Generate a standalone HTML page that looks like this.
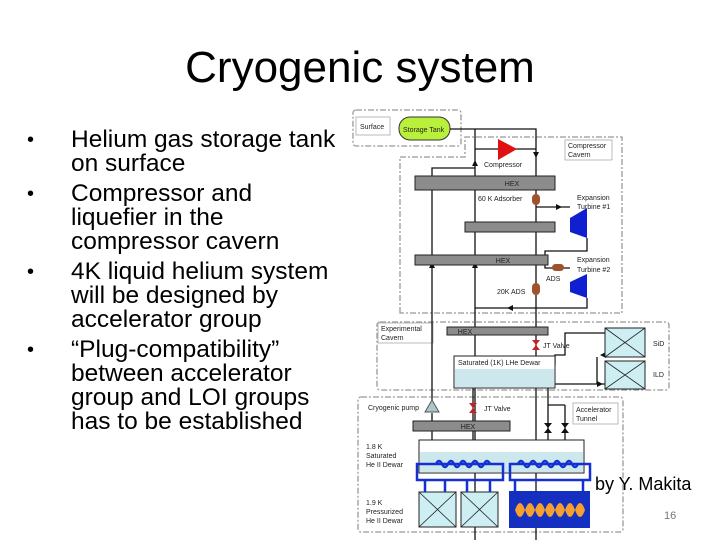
<!DOCTYPE html>
<html><head><style>
body{margin:0;width:720px;height:540px;background:#fff;overflow:hidden;font-family:"Liberation Sans",sans-serif;position:relative}
h1{position:absolute;top:43px;left:0;width:720px;text-align:center;margin:0;font-weight:normal;font-size:44px;line-height:50px}
ul{position:absolute;left:27px;top:128px;margin:0;padding:0;list-style:none;font-size:24.5px;line-height:24px}
li{position:relative;padding-left:44px;margin-bottom:6px}
li:before{content:"•";position:absolute;left:0;font-size:20px}
</style></head><body>
<h1>Cryogenic system</h1>
<ul>
<li>Helium gas storage tank<br>on surface</li>
<li>Compressor and<br>liquefier in the<br>compressor cavern</li>
<li>4K liquid helium system<br>will be designed by<br>accelerator group</li>
<li>“Plug-compatibility”<br>between accelerator<br>group and LOI groups<br>has to be established</li>
</ul>
<svg width="720" height="540" style="position:absolute;left:0;top:0" font-family="Liberation Sans, sans-serif">
<g fill="none" stroke="#999" stroke-width="1.3" stroke-dasharray="6,2,2,2">
<rect x="353" y="110" width="108" height="36" rx="3"/>
<path d="M400,313 V157 H465 V137 H622 V313 Z"/>
<rect x="377" y="322" width="292" height="68" rx="3"/>
<rect x="358" y="397" width="265" height="135" rx="3"/>
</g>
<g fill="#fff" stroke="#aaa" stroke-width="0.8">
<rect x="356" y="117" width="34" height="18"/>
<rect x="565" y="140" width="47" height="20"/>
<rect x="573" y="403" width="45" height="21"/>
<rect x="378" y="323" width="55" height="20"/>
</g>
<rect x="399" y="117" width="51" height="23" rx="11" fill="#b8f03c" stroke="#333"/>
<g stroke="#111" stroke-width="1.3" fill="none">
<path d="M450,129 H536 V540"/>
<path d="M475,129 V540"/>
<path d="M475,149 H536"/>
<path d="M475,168 H432 V400"/>
<path d="M536,207 H570"/>
<path d="M587,238 V251 H545 V268 H570"/>
<path d="M587,298 V308 H475"/>
<path d="M555,365 V355 H565 V333 H605"/>
<path d="M555,384 H605"/>
<path d="M597,357 V384"/>
<path d="M548,388 V445 H503 V464"/>
<path d="M565,405 V460 H512"/>
<path d="M548,405 H565"/>
<path d="M432,413 V440"/>
<path d="M473,388 V440"/>
</g>
<g fill="#111">
<path d="M472,166 l3,-6 3,6z M533,152 l3,6 3,-6z M556,204 l6,3 -6,3z M513,305 l-6,3 6,3z M472,268 l3,-6 3,6z M429,268 l3,-6 3,6z M614,330 l-6,3 6,3z M606,352 l-6,3 6,3z M597,381 l6,3 -6,3z"/>
</g>
<g fill="#8c8c8c" stroke="#222">
<rect x="415" y="176" width="140" height="14"/>
<rect x="465" y="222" width="90" height="10"/>
<rect x="415" y="255" width="133" height="10"/>
<rect x="447" y="327" width="101" height="8"/>
<rect x="413" y="421" width="97" height="10"/>
</g>
<path d="M498,139 L517,149 L498,160 Z" fill="#e01010"/>
<g fill="#a0522d"><rect x="532" y="194" width="8" height="11" rx="4"/><rect x="552" y="264" width="12" height="7" rx="3.5"/><rect x="532" y="283" width="8" height="12" rx="4"/></g>
<g fill="#1020d0"><path d="M570,218 L587,208 V238 L570,232Z"/><path d="M570,282 L587,274 V298 L570,292Z"/></g>
<g fill="#c82020"><path d="M532,340 h8 l-8,10 h8z"/><path d="M469,403 h8 l-8,10 h8z"/></g>
<g fill="#111"><path d="M544,423 h8 l-8,10 h8z"/><path d="M561,423 h8 l-8,10 h8z"/></g>
<path d="M425,412 l7,-12 7,12z" fill="#a8c8cc" stroke="#555"/>
<rect x="454" y="356" width="101" height="32" fill="#fff" stroke="#222"/>
<rect x="455" y="369" width="99" height="18" fill="#cce8ec"/>
<g fill="#cdeef2" stroke="#222">
<rect x="605" y="328" width="40" height="29"/><rect x="605" y="361" width="40" height="28"/>
<rect x="419" y="492" width="37" height="35"/><rect x="461" y="492" width="37" height="35"/>
</g>
<g stroke="#222" stroke-width="0.8">
<path d="M605,328 L645,357 M645,328 L605,357 M605,361 L645,389 M645,361 L605,389 M419,492 L456,527 M456,492 L419,527 M461,492 L498,527 M498,492 L461,527"/>
</g>
<rect x="419" y="440" width="165" height="33" fill="#fff" stroke="#222"/>
<rect x="420" y="452" width="163" height="20" fill="#cce8ec"/>
<g fill="none" stroke="#1530d0" stroke-width="2.5">
<rect x="417" y="464" width="86" height="16"/><rect x="510" y="464" width="80" height="16"/>
<path d="M425,492 V480 M445,492 V480 M467,492 V480 M490,492 V480 M515,492 V480 M583,492 V480"/>
<path d="M436,464 q3,-6 6,0 t6,0 t6,0 t6,0 t6,0 t6,0 t6,0 t6,0 t6,0 M518,464 q3,-6 6,0 t6,0 t6,0 t6,0 t6,0 t6,0 t6,0 t6,0 t6,0 t6,0"/>
</g>
<rect x="509" y="491" width="81" height="37" fill="#1530c0"/>
<path d="M515,510 q5,-14 10,0 q5,14 10,0 q5,-14 10,0 q5,14 10,0 q5,-14 10,0 q5,14 10,0 q5,-14 10,0 q-5,14 -10,0 q-5,-14 -10,0 q-5,14 -10,0 q-5,-14 -10,0 q-5,14 -10,0 q-5,-14 -10,0 q-5,14 -10,0z" fill="#f5a030"/>
<g font-size="7" fill="#222">
<text x="360" y="129">Surface</text>
<text x="403" y="132">Storage Tank</text>
<text x="568" y="148">Compressor</text><text x="568" y="157">Cavern</text>
<text x="484" y="167">Compressor</text>
<text x="478" y="201">60 K Adsorber</text>
<text x="577" y="200">Expansion</text><text x="577" y="209">Turbine #1</text>
<text x="577" y="262">Expansion</text><text x="577" y="272">Turbine #2</text>
<text x="546" y="281">ADS</text>
<text x="497" y="294">20K ADS</text>
<text x="381" y="331">Experimental</text><text x="381" y="340">Cavern</text>
<text x="543" y="348">JT Valve</text>
<text x="458" y="365">Saturated (1K)  LHe Dewar</text>
<text x="653" y="346">SiD</text><text x="653" y="377">ILD</text>
<text x="368" y="410">Cryogenic pump</text>
<text x="484" y="411">JT Valve</text>
<text x="576" y="412">Accelerator</text><text x="576" y="421">Tunnel</text>
<text x="366" y="449">1.8 K</text><text x="366" y="458">Saturated</text><text x="366" y="467">He II Dewar</text>
<text x="366" y="505">1.9 K</text><text x="366" y="514">Pressurized</text><text x="366" y="523">He II Dewar</text>
</g>
<g font-size="7" fill="#222" text-anchor="middle">
<text x="512" y="186">HEX</text><text x="503" y="263">HEX</text><text x="465" y="334">HEX</text><text x="468" y="429">HEX</text>
</g>
<text x="595" y="490" font-size="18" fill="#000">by Y. Makita</text>
<text x="664" y="519" font-size="11" fill="#777">16</text>
</svg>
</body></html>
